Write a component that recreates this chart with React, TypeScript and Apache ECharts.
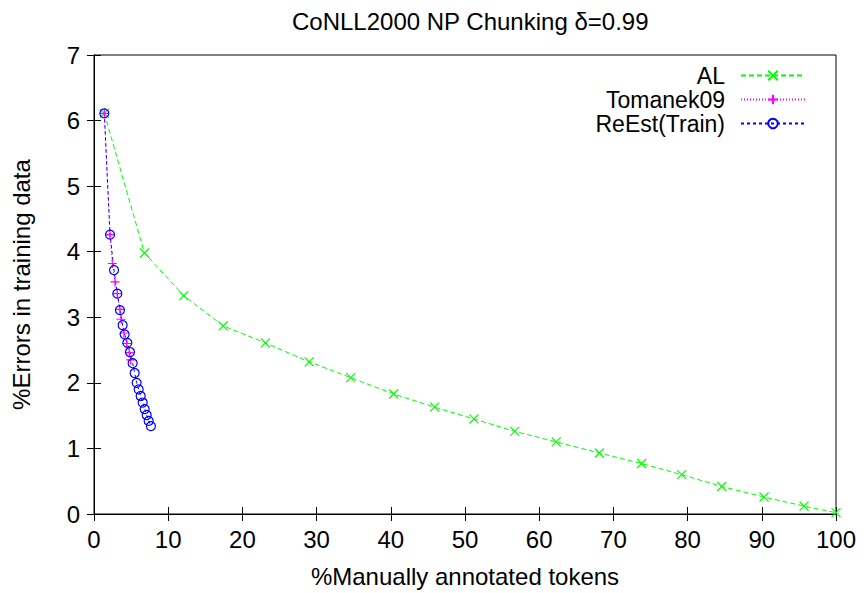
import React, { useEffect, useRef } from "react";
import * as echarts from "echarts";

const titleText = "CoNLL2000 NP Chunking δ=0.99";
const xAxisName = "%Manually annotated tokens";
const yAxisName = "%Errors in training data";
const seriesNames = ["AL", "Tomanek09", "ReEst(Train)"];

const alX = [1.39, 6.8, 12.1, 17.4, 23.1, 29.0, 34.6, 40.4, 45.9, 51.2, 56.7, 62.3, 68.1, 73.8, 79.2, 84.6, 90.3, 95.7, 100];
const alY = [6.11, 3.98, 3.33, 2.87, 2.61, 2.32, 2.08, 1.83, 1.63, 1.45, 1.26, 1.10, 0.93, 0.77, 0.60, 0.42, 0.26, 0.12, 0.02];

const tomX = [1.39, 2.16, 2.47, 2.83, 3.14, 3.50, 3.64, 4.04, 4.4, 4.76, 4.94];
const tomY = [6.11, 4.26, 3.82, 3.54, 3.36, 3.12, 2.97, 2.76, 2.6, 2.46, 2.35];

const reX = [1.39, 2.16, 2.70, 3.14, 3.50, 3.86, 4.13, 4.49, 4.85, 5.21, 5.48, 5.75, 6.02, 6.29, 6.56, 6.83, 7.10, 7.37, 7.67];
const reY = [6.11, 4.26, 3.72, 3.36, 3.11, 2.88, 2.74, 2.61, 2.47, 2.30, 2.15, 2.0, 1.90, 1.80, 1.70, 1.60, 1.51, 1.42, 1.34];

const zip = (xs: number[], ys: number[]) => xs.map((x, i) => [x, ys[i]]);

const FONT = "'Liberation Sans', Arial, Helvetica, sans-serif";
const FS = 24;

export default function App() {
  const ref = useRef<HTMLDivElement>(null);
  useEffect(() => {
    if (!ref.current) return;
    const chart = echarts.init(ref.current, undefined, { renderer: "svg" });
    const axisCommon = {
      axisLine: { show: true, lineStyle: { color: "#000", width: 1 } },
      axisTick: { show: true, inside: true, length: 7, lineStyle: { color: "#000", width: 1 } },
      splitLine: { show: false },
    };
    const legendBase = (name: string, top: number) => ({
      data: [name],
      orient: "vertical",
      right: 60,
      top,
      align: "right",
      padding: 0,
      itemWidth: 64,
      itemHeight: 12,
      selectedMode: false,
      textStyle: { fontFamily: FONT, fontSize: 23, lineHeight: 22, color: "#000", padding: [0, 11, 0, 0] },
    });
    chart.setOption({
      animation: false,
      backgroundColor: "#fff",
      textStyle: { fontFamily: FONT },
      title: {
        text: titleText,
        left: 287,
        top: 4,
        textStyle: { fontFamily: FONT, fontSize: FS, fontWeight: "normal", color: "#000" },
      },
      legend: [
        legendBase(seriesNames[0], 64),
        legendBase(seriesNames[1], 88),
        legendBase(seriesNames[2], 112),
      ],
      grid: { left: 94, right: 30, top: 55, bottom: 76, show: true, borderColor: "#000", borderWidth: 1 },
      xAxis: [
        {
          type: "value",
          min: 0,
          max: 100,
          interval: 10,
          position: "bottom",
          name: xAxisName,
          nameLocation: "middle",
          nameGap: 50,
          nameTextStyle: { fontFamily: FONT, fontSize: FS, color: "#000" },
          axisLabel: { fontFamily: FONT, fontSize: FS, color: "#000", margin: 13 },
          ...axisCommon,
        },
        {
          type: "value",
          min: 0,
          max: 100,
          interval: 10,
          position: "top",
          axisLabel: { show: false },
          ...axisCommon,
        },
      ],
      yAxis: [
        {
          type: "value",
          min: 0,
          max: 7,
          interval: 1,
          position: "left",
          name: yAxisName,
          nameLocation: "middle",
          nameGap: 61,
          nameTextStyle: { fontFamily: FONT, fontSize: FS, color: "#000" },
          axisLabel: { fontFamily: FONT, fontSize: FS, color: "#000", margin: 14 },
          ...axisCommon,
        },
        {
          type: "value",
          min: 0,
          max: 7,
          interval: 1,
          position: "right",
          axisLabel: { show: false },
          ...axisCommon,
        },
      ],
      series: [
        {
          name: seriesNames[0],
          type: "line",
          data: zip(alX, alY),
          symbol: "path://M0,0L10,10M10,0L0,10",
          symbolSize: 9,
          itemStyle: { color: "#00ff00", borderColor: "#00ff00", borderWidth: 1.2 },
          lineStyle: { color: "#00ff00", width: 1, type: [5, 3] },
        },
        {
          name: seriesNames[1],
          type: "line",
          data: zip(tomX, tomY),
          symbol: "path://M5,0L5,10M0,5L10,5",
          symbolSize: 9,
          itemStyle: { color: "#ff00ff", borderColor: "#ff00ff", borderWidth: 1.2 },
          lineStyle: { color: "#ff00ff", width: 1, type: [1, 2] },
        },
        {
          name: seriesNames[2],
          type: "line",
          data: zip(reX, reY),
          symbol: "circle",
          symbolSize: 9,
          itemStyle: { color: "rgba(0,0,0,0)", borderColor: "#0000ff", borderWidth: 1.2 },
          lineStyle: { color: "#0000ff", width: 1, type: [3, 3] },
        },
      ],
    });
    return () => chart.dispose();
  }, []);
  return (
    <div
      ref={ref}
      style={{ position: "fixed", left: 0, top: 0, width: 866, height: 593, background: "#fff" }}
    />
  );
}
